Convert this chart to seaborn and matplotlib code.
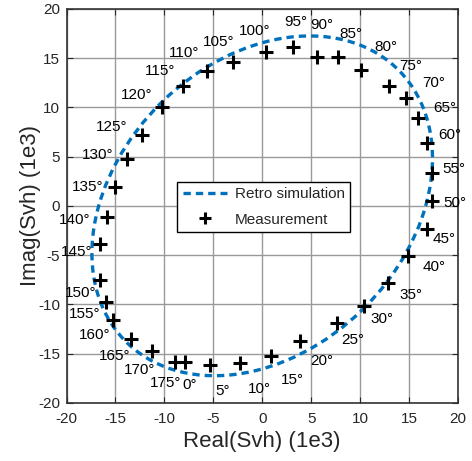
import numpy as np
import pandas as pd
import matplotlib
matplotlib.use("Agg")
import matplotlib.pyplot as plt
import seaborn as sns
from matplotlib.patches import Ellipse
from matplotlib.lines import Line2D

angles = [0, 5, 10, 15, 20, 25, 30, 35, 40, 45, 50, 55, 60, 65, 70, 75, 80, 85, 90,
          95, 100, 105, 110, 115, 120, 125, 130, 135, 140, 145, 150, 155, 160, 165, 170, 175]
meas_real = [-7.9, -5.3, -2.3, 0.9, 3.9, 7.6, 10.4, 12.9, 14.9, 16.8, 17.4, 17.4, 16.8, 15.9,
             14.7, 13.0, 10.1, 7.8, 5.6, 3.2, 0.4, -3.0, -5.6, -8.1, -10.2, -12.3, -13.8,
             -15.0, -15.9, -16.6, -16.6, -16.0, -15.3, -13.4, -11.3, -8.9]
meas_imag = [-15.8, -16.2, -15.9, -15.2, -13.7, -11.9, -10.2, -7.8, -5.1, -2.4, 0.5, 3.3,
             6.4, 8.9, 10.9, 12.2, 13.8, 15.1, 15.1, 16.1, 15.6, 14.6, 13.7, 12.2, 10.0, 7.2,
             4.8, 1.9, -1.1, -3.9, -7.5, -9.8, -11.6, -13.5, -14.7, -15.8]

# Retro simulation: ellipse
sim_center = (0.0, 0.0)
sim_major = 39.2
sim_minor = 29.4
sim_tilt = 44

# label offsets in pixels (dx, dy up)
label_offsets = [(5, -23), (12, -26), (20, -26), (21, -24), (21, -20), (16, -17), (18, -13),
                 (23, -12), (26, -11), (18, -10), (22, -2), (21, 4), (23, 8), (27, 10),
                 (28, 15), (21, 20), (25, 23), (12, 23), (5, 32), (2, 25), (-11, 21), (-14, 20),
                 (-23, 18), (-23, 15), (-26, 12), (-30, 8), (-30, 4), (-28, 0), (-32, -3),
                 (-23, -8), (-19, -13), (-21, -12), (-18, -15), (-16, -17), (-12, -19), (-10, -21)]

df = pd.DataFrame({"angle": angles, "real": meas_real, "imag": meas_imag})

sns.set_style("ticks")
plt.rcParams["font.family"] = ["Liberation Sans", "DejaVu Sans"]
plt.rcParams["axes.unicode_minus"] = False

fig = plt.figure(figsize=(4.72, 4.61), dpi=100)
ax = fig.add_axes([0.141, 0.126, 0.829, 0.855])

blue = "#0072BD"
ell = Ellipse(sim_center, sim_major, sim_minor, angle=sim_tilt, fill=False,
              edgecolor=blue, linewidth=2.4, linestyle=(0, (2.2, 1.5)), zorder=3)
ax.add_patch(ell)

sns.scatterplot(data=df, x="real", y="imag", marker="+", s=110, color="black",
                linewidth=2.2, ax=ax, zorder=4, legend=False)

for (a, xr, yi, (dx, dy)) in zip(angles, meas_real, meas_imag, label_offsets):
    ax.annotate(f"{a}°", (xr, yi), xytext=(dx, dy), textcoords="offset pixels",
                ha="center", va="center", fontsize=11, color="black", zorder=5)

ax.set_xlim(-20, 20)
ax.set_ylim(-20, 20)
ax.set_xticks(np.arange(-20, 21, 5))
ax.set_yticks(np.arange(-20, 21, 5))
ax.grid(True, color="#999999", linewidth=1.0)
ax.set_axisbelow(True)
ax.tick_params(direction="in", length=4, labelsize=11, top=True, right=True)
ax.tick_params(axis="x", pad=6.5)
ax.tick_params(axis="y", pad=4.5)
for s in ax.spines.values():
    s.set_visible(True)
    s.set_color("#333333")
    s.set_linewidth(1.2)

ax.set_xlabel("Real(Svh) (1e3)", fontsize=16, labelpad=4)
ax.set_ylabel("Imag(Svh) (1e3)", fontsize=16, labelpad=-2)

handles = [Line2D([], [], color=blue, linewidth=2.4, linestyle=(0, (2.2, 1.5))),
           Line2D([], [], color="black", marker="+", linestyle="none", markersize=9, mew=2.2)]
leg = ax.legend(handles, ["Retro simulation", "Measurement"], loc="lower left",
                bbox_to_anchor=(0.283, 0.434), borderaxespad=0, fontsize=11, frameon=True,
                fancybox=False, framealpha=1, edgecolor="black", borderpad=0.35,
                handlelength=2.9, handletextpad=0.5, labelspacing=0.75)
leg.get_frame().set_linewidth(1.0)
leg.set_zorder(6)

fig.savefig("out.png", dpi=100)
